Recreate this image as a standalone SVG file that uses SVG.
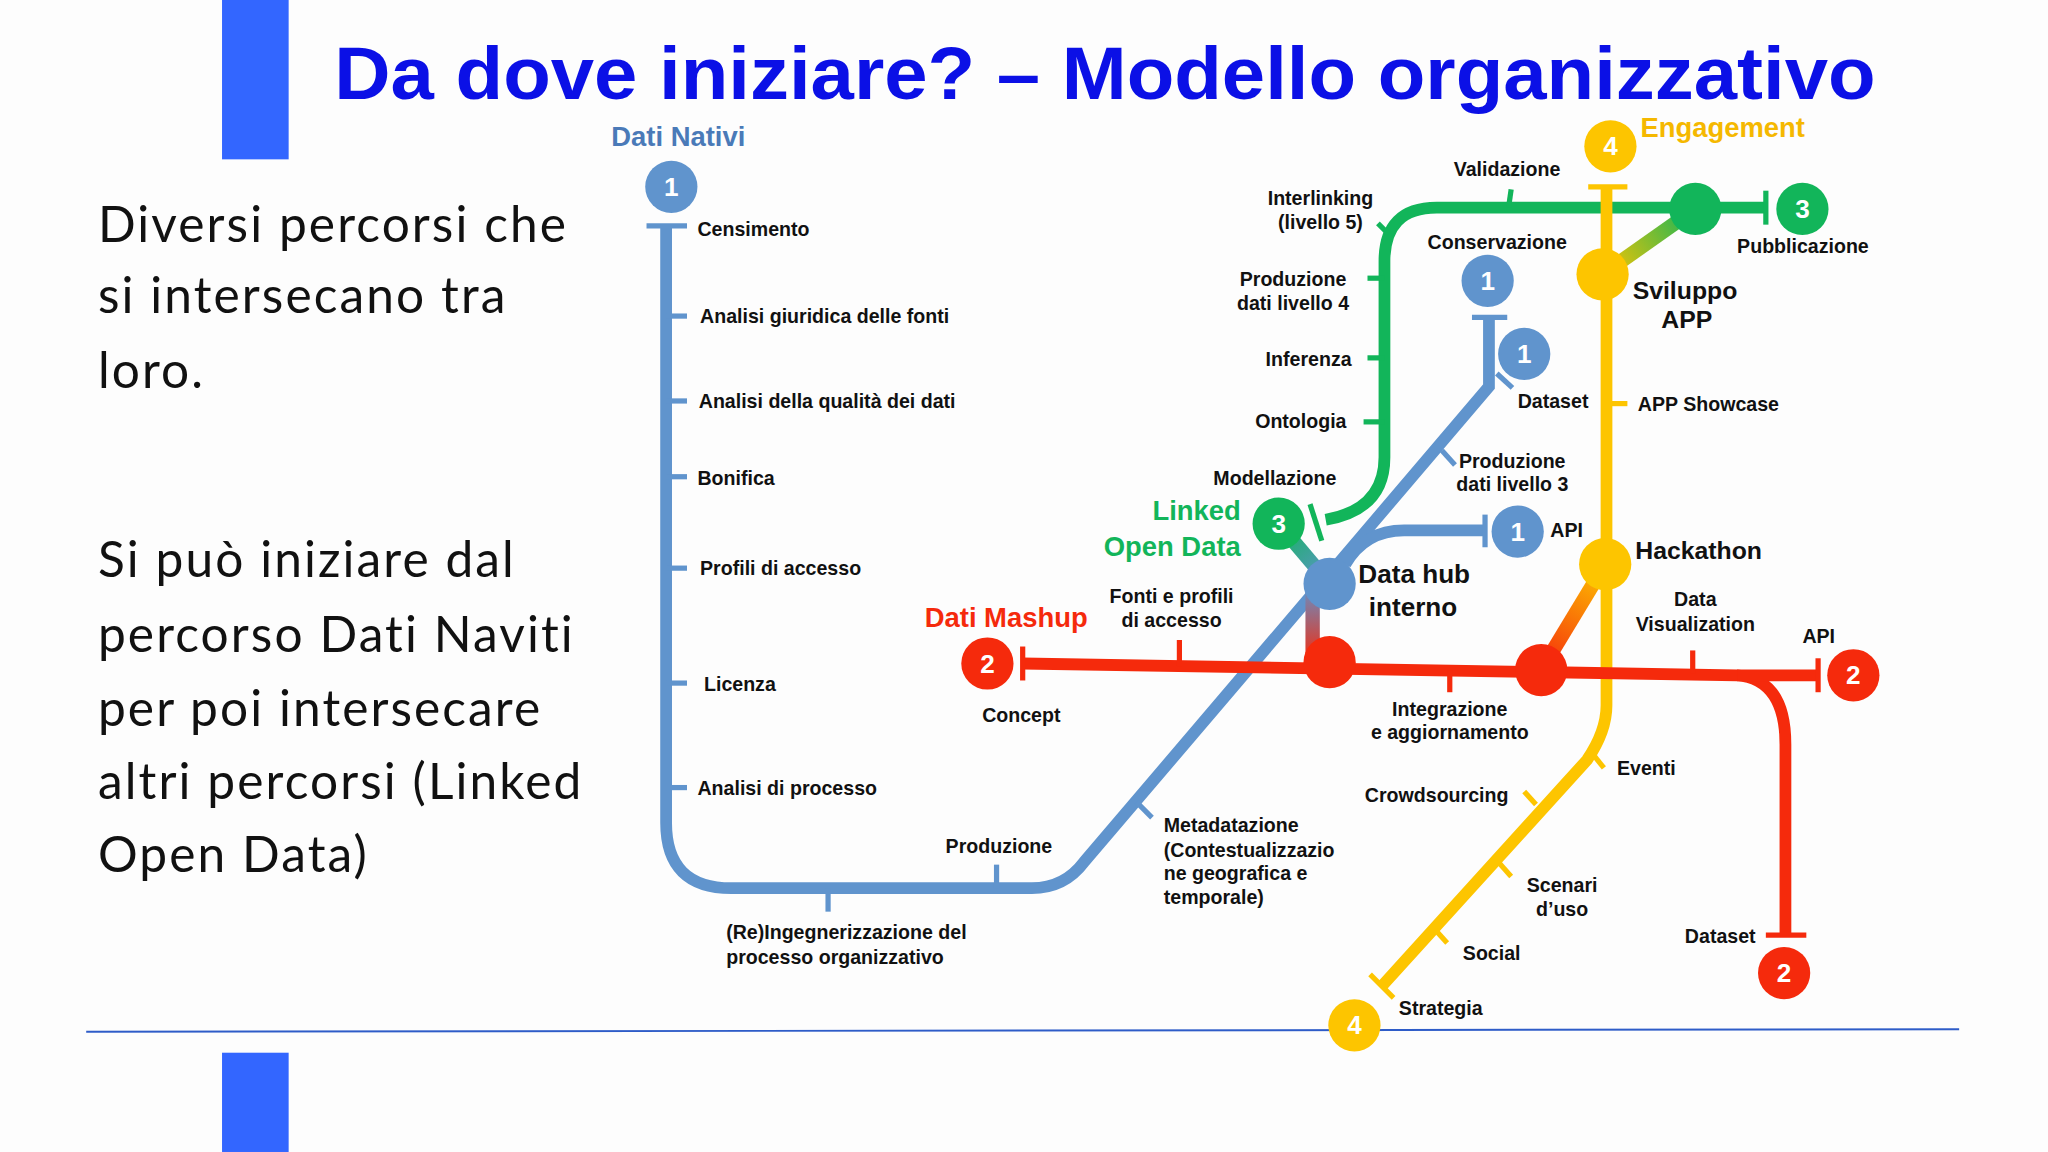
<svg xmlns="http://www.w3.org/2000/svg" width="2048" height="1152" viewBox="0 0 2048 1152">
<defs>
<style>
.l{font-family:"Liberation Sans",Arial,sans-serif;font-weight:bold;font-size:15px;fill:#111}
.c{text-anchor:middle}
.big{font-family:"Liberation Sans",Arial,sans-serif;font-weight:bold;font-size:21px}
.body{font-family:"Lato","Open Sans",sans-serif;font-size:38px;fill:#111;letter-spacing:1.6px}
.n{font-family:"Liberation Sans",Arial,sans-serif;font-weight:bold;font-size:20px;fill:#fff;text-anchor:middle}
.b{stroke:#6094cd;stroke-width:9;fill:none}
.g{stroke:#12b55a;stroke-width:9;fill:none}
.y{stroke:#fdc500;stroke-width:9;fill:none}
.r{stroke:#f52a0c;stroke-width:9;fill:none}
.t{stroke-width:4}
</style>
<linearGradient id="gy" x1="1298" y1="160" x2="1227" y2="210" gradientUnits="userSpaceOnUse"><stop offset="0" stop-color="#12b55a"/><stop offset="1" stop-color="#fdc500"/></linearGradient>
<linearGradient id="gb" x1="979" y1="401" x2="1018" y2="447" gradientUnits="userSpaceOnUse"><stop offset="0" stop-color="#12b55a"/><stop offset="1" stop-color="#6094cd"/></linearGradient>
<linearGradient id="br" x1="0" y1="447" x2="0" y2="507" gradientUnits="userSpaceOnUse"><stop offset="0" stop-color="#6094cd"/><stop offset="1" stop-color="#f52a0c"/></linearGradient>
<linearGradient id="ry" x1="1180" y1="513" x2="1229" y2="432" gradientUnits="userSpaceOnUse"><stop offset="0" stop-color="#f52a0c"/><stop offset="1" stop-color="#fdc500"/></linearGradient>
</defs>
<rect width="2048" height="1152" fill="#fdfdfd"/>
<g transform="scale(1.3061)">
<rect x="170" y="0" width="51" height="122" fill="#3366ff"/>
<rect x="170" y="806" width="51" height="76" fill="#3366ff"/>
<line x1="66" y1="790" x2="1500" y2="788" stroke="#2e5cc8" stroke-width="1.5"/>
<text x="846" y="76" text-anchor="middle" font-family="'Liberation Sans',Arial,sans-serif" font-weight="bold" font-size="57" fill="#0b10e6" textLength="1180" lengthAdjust="spacingAndGlyphs">Da dove iniziare? – Modello organizzativo</text>
<g class="body">
<text x="75" y="185">Diversi percorsi che</text>
<text x="75" y="240">si intersecano tra</text>
<text x="75" y="297">loro.</text>
<text x="75" y="442">Si può iniziare dal</text>
<text x="75" y="499">percorso Dati Naviti</text>
<text x="75" y="556">per poi intersecare</text>
<text x="75" y="612">altri percorsi (Linked</text>
<text x="75" y="668">Open Data)</text>
</g>
<g id="connectors">
<path class="g" d="M1015 398 Q1060 390 1060 350 L1060 200 Q1060 159 1100 159 L1352 159"/>
<line class="g t" x1="1352" y1="146" x2="1352" y2="172"/>
<line class="g t" x1="1003" y1="386" x2="1012" y2="414"/>
<line class="g t" x1="1047" y1="213" x2="1060" y2="213"/>
<line class="g t" x1="1047" y1="274" x2="1060" y2="274"/>
<line class="g t" x1="1044" y1="323" x2="1060" y2="323"/>
<line class="g t" x1="1055" y1="171" x2="1063" y2="179"/>
<line class="g t" x1="1157" y1="145" x2="1155" y2="159"/>
<line x1="1298" y1="160" x2="1227" y2="210" stroke="url(#gy)" stroke-width="11"/>
<line x1="979" y1="401" x2="1018" y2="447" stroke="url(#gb)" stroke-width="11"/>
<path class="b" d="M510 173 L510 630 Q510 680 560 680 L790 680 Q815 680 830 660 L1140 296 L1140 243"/>
<line class="b t" x1="495" y1="173" x2="526" y2="173"/>
<line class="b t" x1="1127" y1="243" x2="1154" y2="243"/>
<path class="b" d="M1030 432 Q1045 406 1075 406 L1137 406"/>
<line class="b t" x1="1137" y1="394" x2="1137" y2="419"/>
<g class="b t">
<line x1="510" y1="242" x2="526" y2="242"/><line x1="510" y1="307" x2="526" y2="307"/><line x1="510" y1="365" x2="526" y2="365"/><line x1="510" y1="435" x2="526" y2="435"/><line x1="510" y1="523" x2="526" y2="523"/><line x1="510" y1="603" x2="526" y2="603"/>
<line x1="763" y1="680" x2="763" y2="662"/><line x1="634" y1="680" x2="634" y2="698"/>
<line x1="870" y1="614" x2="882" y2="626"/><line x1="1104" y1="345" x2="1114" y2="356"/><line x1="1146" y1="286" x2="1158" y2="297"/>
</g>
<line x1="1005" y1="447" x2="1005" y2="507" stroke="url(#br)" stroke-width="11"/>
<path class="y" d="M1230 143 L1230 540 Q1230 560 1215 582 L1058 755"/>
<line class="y t" x1="1216" y1="143" x2="1246" y2="143"/>
<line class="y t" x1="1049" y1="746" x2="1067" y2="764"/>
<g class="y t">
<line x1="1230" y1="309" x2="1246" y2="309"/>
<line x1="1220" y1="578" x2="1228" y2="588"/>
<line x1="1167" y1="606" x2="1176" y2="616"/>
<line x1="1148" y1="661" x2="1157" y2="671"/>
<line x1="1099" y1="712" x2="1108" y2="722"/>
</g>
<path class="r" d="M783 508 L1330 517 Q1367 520 1367 570 L1367 716"/>
<line class="r" x1="1330" y1="517" x2="1392" y2="517"/>
<line class="r t" x1="783" y1="495" x2="783" y2="521"/>
<line class="r t" x1="1392" y1="504" x2="1392" y2="530"/>
<line class="r t" x1="1352" y1="716" x2="1383" y2="716"/>
<g class="r t">
<line x1="903" y1="490" x2="903" y2="510"/>
<line x1="1110" y1="513" x2="1110" y2="530"/>
<line x1="1296" y1="498" x2="1296" y2="516"/>
</g>
<line x1="1180" y1="513" x2="1229" y2="432" stroke="url(#ry)" stroke-width="11"/>
</g>
<g id="nodes">
<g id="n-blue1"><circle cx="514" cy="143" r="20" fill="#6094cd"/><text class="n" x="514" y="150">1</text></g>
<g id="n-blue2"><circle cx="1139" cy="215" r="20" fill="#6094cd"/><text class="n" x="1139" y="222">1</text></g>
<g id="n-blue3"><circle cx="1167" cy="271" r="20" fill="#6094cd"/><text class="n" x="1167" y="278">1</text></g>
<g id="n-blue4"><circle cx="1162" cy="407" r="20" fill="#6094cd"/><text class="n" x="1162" y="414">1</text></g>
<g id="n-hub"><circle cx="1018" cy="447" r="20" fill="#6094cd"/></g>
<g id="n-green1"><circle cx="979" cy="401" r="20" fill="#12b55a"/><text class="n" x="979" y="408">3</text></g>
<g id="n-green2"><circle cx="1380" cy="160" r="20" fill="#12b55a"/><text class="n" x="1380" y="167">3</text></g>
<g id="n-green3"><circle cx="1298" cy="160" r="20" fill="#12b55a"/></g>
<g id="n-y1"><circle cx="1233" cy="112" r="20" fill="#fdc500"/><text class="n" x="1233" y="119">4</text></g>
<g id="n-y2"><circle cx="1037" cy="785" r="20" fill="#fdc500"/><text class="n" x="1037" y="792">4</text></g>
<g id="n-app"><circle cx="1227" cy="210" r="20" fill="#fdc500"/></g>
<g id="n-hack"><circle cx="1229" cy="432" r="20" fill="#fdc500"/></g>
<g id="n-r1"><circle cx="756" cy="508" r="20" fill="#f52a0c"/><text class="n" x="756" y="515">2</text></g>
<g id="n-r2"><circle cx="1419" cy="517" r="20" fill="#f52a0c"/><text class="n" x="1419" y="524">2</text></g>
<g id="n-r3"><circle cx="1366" cy="745" r="20" fill="#f52a0c"/><text class="n" x="1366" y="752">2</text></g>
<g id="n-r4"><circle cx="1018" cy="507" r="20" fill="#f52a0c"/></g>
<g id="n-r5"><circle cx="1180" cy="513" r="20" fill="#f52a0c"/></g>
</g>
<g id="labels">
<text class="big" x="468" y="112" fill="#4a7ab8">Dati Nativi</text>
<text class="big" x="1256" y="105" fill="#f5b800">Engagement</text>
<text class="big" x="708" y="480" fill="#f52a0c">Dati Mashup</text>
<text class="big" x="950" y="398" fill="#12b55a" text-anchor="end">Linked</text>
<text class="big" x="950" y="426" fill="#12b55a" text-anchor="end">Open Data</text>
<text class="l" x="534" y="181">Censimento</text>
<text class="l" x="536" y="247">Analisi giuridica delle fonti</text>
<text class="l" x="535" y="312">Analisi della qualità dei dati</text>
<text class="l" x="534" y="371">Bonifica</text>
<text class="l" x="536" y="440">Profili di accesso</text>
<text class="l" x="539" y="529">Licenza</text>
<text class="l" x="534" y="609">Analisi di processo</text>
<text class="l" x="724" y="653">Produzione</text>
<text class="l" x="556" y="719">(Re)Ingegnerizzazione del</text>
<text class="l" x="556" y="738">processo organizzativo</text>
<text class="l" x="891" y="637">Metadatazione</text>
<text class="l" x="891" y="656">(Contestualizzazio</text>
<text class="l" x="891" y="674">ne geografica e</text>
<text class="l" x="891" y="692">temporale)</text>
<text class="l" x="752" y="553">Concept</text>
<text class="l c" x="897" y="462">Fonti e profili</text>
<text class="l c" x="897" y="480">di accesso</text>
<text class="l" x="1040" y="446" style="font-size:20px">Data hub</text>
<text class="l" x="1048" y="472" style="font-size:20px">interno</text>
<text class="l c" x="1110" y="548">Integrazione</text>
<text class="l c" x="1110" y="566">e aggiornamento</text>
<text class="l" x="1045" y="614">Crowdsourcing</text>
<text class="l" x="1238" y="593">Eventi</text>
<text class="l c" x="1196" y="683">Scenari</text>
<text class="l c" x="1196" y="701">d’uso</text>
<text class="l" x="1120" y="735">Social</text>
<text class="l" x="1071" y="777">Strategia</text>
<text class="l" x="1290" y="722">Dataset</text>
<text class="l" x="1380" y="492">API</text>
<text class="l c" x="1298" y="464">Data</text>
<text class="l c" x="1298" y="483">Visualization</text>
<text class="l" x="1252" y="428" style="font-size:19px">Hackathon</text>
<text class="l" x="1187" y="411">API</text>
<text class="l" x="1117" y="358">Produzione</text>
<text class="l" x="1115" y="376">dati livello 3</text>
<text class="l" x="1162" y="312">Dataset</text>
<text class="l" x="1254" y="315">APP Showcase</text>
<text class="l" x="1250" y="229" style="font-size:19px">Sviluppo</text>
<text class="l" x="1272" y="251" style="font-size:19px">APP</text>
<text class="l" x="1330" y="194">Pubblicazione</text>
<text class="l" x="1113" y="135">Validazione</text>
<text class="l c" x="1011" y="157">Interlinking</text>
<text class="l c" x="1011" y="175">(livello 5)</text>
<text class="l" x="1093" y="191">Conservazione</text>
<text class="l c" x="990" y="219">Produzione</text>
<text class="l c" x="990" y="237">dati livello 4</text>
<text class="l" x="969" y="280">Inferenza</text>
<text class="l" x="961" y="328">Ontologia</text>
<text class="l" x="929" y="371">Modellazione</text>
</g>
</g>
</svg>
